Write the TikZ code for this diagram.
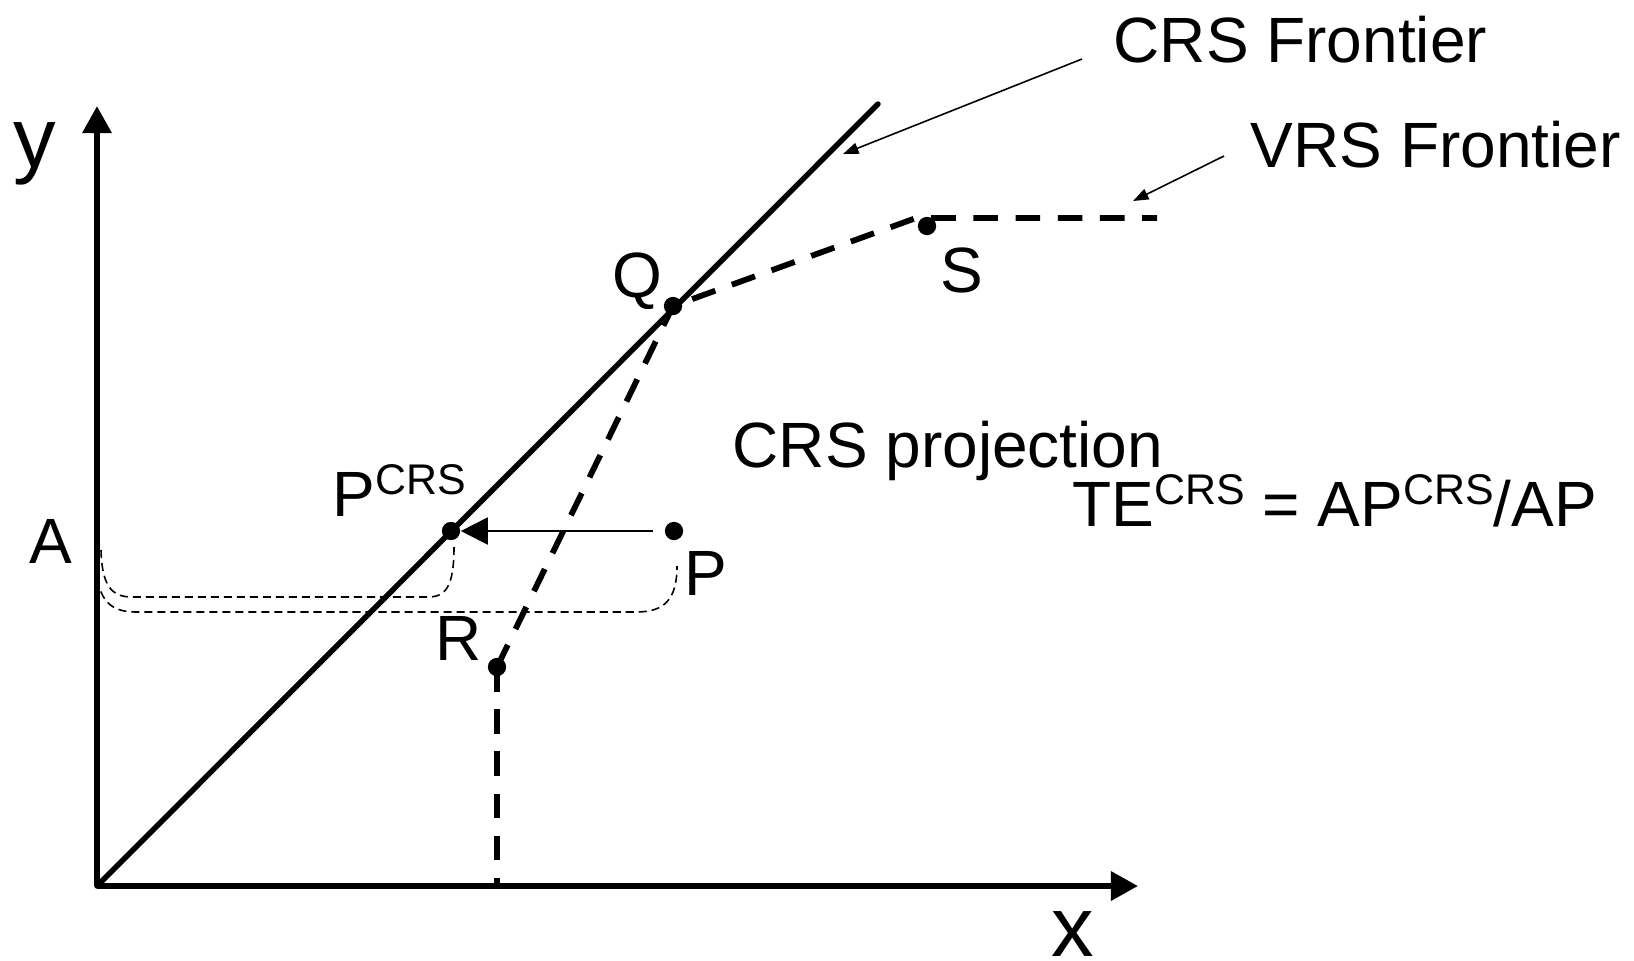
\documentclass[tikz,border=0pt]{standalone}
\usepackage{fontspec}
\setmainfont{Liberation Sans}
\usetikzlibrary{arrows.meta}
\newcommand\supcrs[1]{\raisebox{6pt}{\fontsize{12.2}{13}\selectfont #1}}
\begin{document}
\begin{tikzpicture}[x=0.01cm,y=-0.01cm,
  lbl/.style={inner sep=0pt, font=\fontsize{18.2}{20}\selectfont},
  axlbl/.style={inner sep=0pt, font=\fontsize{24.2}{26}\selectfont},
  dot/.style={circle, fill=black, inner sep=0pt, minimum size=5.2pt},
  axis/.style={line width=1.7pt, -{Triangle[length=7.7pt,width=8pt]}},
  crsline/.style={line width=1.55pt},
  vrsline/.style={line width=1.65pt, dash pattern=on 7pt off 5pt},
  proj/.style={line width=0.6pt, -{Triangle[length=7.7pt,width=7.7pt]}},
  ptr/.style={line width=0.45pt, -{Triangle[length=4.4pt,width=3.2pt]}},
  brk/.style={line width=0.45pt, dash pattern=on 2.3pt off 1.4pt}]
\useasboundingbox (0,0) rectangle (1634,960);
% coordinates
\coordinate (O) at (97,886);
\coordinate (Ytip) at (97,106);
\coordinate (Xtip) at (1138,886);
\coordinate (Ctop) at (878,104);
\coordinate (K) at (916,218);
\coordinate (Vend) at (1157,218);
\coordinate (Rfoot) at (497,886);
% axes
\draw[axis] (O) -- (Ytip);
\draw[axis] (O) -- (Xtip);
% CRS frontier
\draw[crsline, line cap=round] (O) -- (Ctop);
% dots
\node[dot] (Q) at (673,306) {};
\node[dot] (PC) at (451,531) {};
\node[dot] (P) at (674,531) {};
\node[dot] (R) at (497,667) {};
\node[dot] (S) at (927,226) {};
% VRS frontier
\draw[vrsline] (R.center) -- (Q.center) -- (K) -- (Vend);
\draw[vrsline] (R.center) -- (Rfoot);
% projection arrow
\coordinate (Pst) at (653,531);
\draw[proj] (Pst) -- (PC);
% brackets
\draw[brk] (101,550) .. controls (102,585) and (111,597) .. (132,597) -- (428,597)
  .. controls (446,597) and (454,586) .. (454,547);
\draw[brk] (96,566) .. controls (98,600) and (110,612) .. (136,612) -- (636,612)
  .. controls (664,612) and (677,600) .. (677,566);
% pointers
\coordinate (c1) at (1082,59);
\coordinate (c1e) at (843,154);
\coordinate (v1) at (1224,156);
\coordinate (v1e) at (1133,201);
\draw[ptr] (c1) -- (c1e);
\draw[ptr] (v1) -- (v1e);
% labels
\node[axlbl, anchor=base] (ylab) at (35,167) {y};
\node[axlbl, anchor=base] (xlab) at (1073,956) {x};
\node[lbl, anchor=base west] (crsf) at (1113,62) {CRS Frontier};
\node[lbl, anchor=base west] (vrsf) at (1250,167) {VRS Frontier};
\node[lbl, anchor=base west] (projl) at (732,467) {CRS projection};
\node[lbl, anchor=base west] (te) at (1072,526) {TE\supcrs{CRS} = AP\supcrs{CRS}/AP};
\node[lbl, anchor=base west] (pcl) at (332,516) {P\supcrs{CRS}};
\node[lbl, anchor=base west] (ql) at (612,297) {Q};
\node[lbl, anchor=base west] (sl) at (940,292) {S};
\node[lbl, anchor=base west] (pl) at (684,595) {P};
\node[lbl, anchor=base west] (rl) at (435,660) {R};
\node[lbl, anchor=base west] (al) at (29,563) {A};
\end{tikzpicture}
\end{document}
